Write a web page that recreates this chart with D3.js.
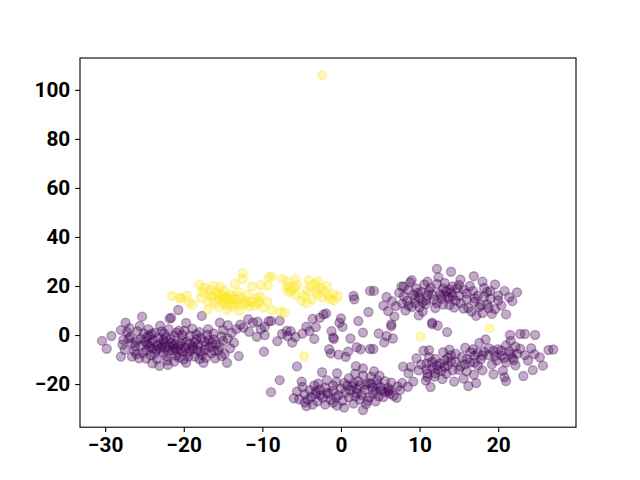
<!DOCTYPE html>
<html><head><meta charset="utf-8">
<script src="https://cdn.jsdelivr.net/npm/d3@7"></script>
<style>html,body{margin:0;padding:0;background:#fff}svg{display:block}</style>
</head><body><svg id="c" width="640" height="480"></svg>
<script>
const xTicks=[-30,-20,-10,0,10,20];
const yTicks=[-20,0,20,40,60,80,100];
const purpleLeft=[[-30.4,-2.4],[-29.2,-0.4],[-29.8,-5.6],[-28,-8.8],[-27.4,5],[-28,2],[-27.7,-2],[-27.8,-4],[-27.5,-6],[-27.2,1.2],[-26.8,-0.8],[-26.6,-3.4],[-26.3,-6.5],[-26.9,2.8],[-25.3,7.5],[-25.6,3.7],[-25.7,-9.5],[-26,-7.8],[-25.9,1.5],[-25.5,-1.6],[-25.4,-4.2],[-25.1,0.6],[-24.9,-2.8],[-24.8,-6.3],[-24.5,2.4],[-24.4,-0.3],[-24.3,-4.8],[-24.2,-8.2],[-24,-11.5],[-23.9,-2],[-23.7,0.9],[-23.5,-6],[-23.4,-9.8],[-23.1,-12.6],[-23,3.8],[-22.9,-3.4],[-22.8,1.5],[-22.6,-7.1],[-22.4,-5],[-22.3,-1],[-22.1,-10.4],[-22,-12.2],[-21.9,2.4],[-21.8,6.7],[-21.6,7],[-21.6,-3.2],[-21.4,-6.3],[-21.2,-0.4],[-21,-8.4],[-20.9,0.9],[-20.7,10.2],[-20.6,-4.4],[-20.4,-5.8],[-20.2,-2.2],[-20,-10],[-19.9,1.7],[-19.7,4.9],[-19.7,-11.3],[-19.5,-7.3],[-19.3,-3.7],[-19.2,-0.4],[-18.9,2.6],[-18.8,-5.4],[-18.6,-8.8],[-18.4,-1.8],[-18.2,-4],[-18,1.2],[-17.9,-6.8],[-17.7,7.8],[-17.5,-11.3],[-17.4,-2.6],[-17.2,-9.3],[-17,0],[-16.9,2.4],[-16.7,-5],[-16.5,-7.4],[-16.2,-1.8],[-16,-9.5],[-15.9,-3.8],[-15.6,-6.2],[-15.4,5],[-15.2,-0.6],[-15,2],[-14.8,-7.7],[-14.5,-11.3],[-14.4,4],[-14.1,-5.4],[-13.9,0.8],[-13.6,-3.1],[-13.3,2.4],[-13,-8.6],[-12.8,4.2],[-12.4,3],[-11.8,6.5],[-11.7,1.3],[-11.2,5],[-10.7,-0.7],[-10.6,5.4],[-10.2,2.4],[-9.7,0],[-9.8,-6.8],[-9.7,3.4],[-9.2,5.6],[-8.9,5.7],[-8.1,-2.5],[-7.8,5.8],[-7.5,0.4],[-6.9,1.7],[-6.8,-0.4],[-27,-1.4],[-26.2,-4.6],[-24.7,-1],[-24.2,-3.2],[-23.4,-4.2],[-23.2,-1.2],[-22.8,-4.8],[-22.4,-3],[-22,-6.4],[-21.8,-4.8],[-21.2,-3.8],[-20.8,-7],[-20.4,-3.4],[-19.8,-5.2],[-19.2,-6.4],[-18.6,-3],[-18,-9.8],[-17.2,-4.2],[-16.4,-3.2],[-15.4,-4.8],[-24.8,-9.6],[-21.2,-10.8],[-26.6,-8.8],[-15,-2.4],[-14.4,-1.4],[-17.8,-1.2],[-20.2,0],[-22.5,0.5],[-24,-5.6],[-25.2,-7.4],[-24.6,-3.8],[-23.7,-7.6],[-23.1,-5.6],[-22.6,-2],[-22.2,-8.6],[-21.7,-1.6],[-21.4,-4.4],[-21.1,-5.6],[-20.6,-9.2],[-20.1,-6.6],[-19.6,-2.6],[-19.4,-8.8],[-18.9,-4.6],[-18.3,-6.2],[-17.7,-8],[-17.3,-6],[-16.8,-2],[-16.1,-6.4],[-15.2,-8.6],[-24.1,0.4],[-26,-2.6],[-20.6,1.8],[-18.4,0.2],[-16.2,0.6]];
const purpleMid=[[-6.2,-3.1],[-6.4,1.6],[-5.8,-0.8],[-5.6,-12.8],[-4.9,0.6],[-4.4,3.4],[-4,1.6],[-3.6,6.6],[-3.4,-1.6],[-3.2,3.2],[-2.7,7],[-2.2,8.4],[-1.9,8.8],[-2.4,-15.2],[-1.5,-5.8],[-1.3,-7.5],[-1.2,1.6],[-1,-1],[-0.3,-8],[-0.2,5],[0,6.8],[0.2,3.3],[0.6,-8.9],[0.9,-6.8],[1.2,-1.4],[1.6,15.9],[1.7,14.6],[2,-5],[2.2,5.7],[2.5,-5.8],[2.8,1],[3.7,-5.7],[3.5,9.4],[4.1,-5.7],[4.2,18],[4.8,0.6],[5.5,-3],[5.8,-0.4],[6.4,3.6],[1.9,-12.7],[2.8,-13.6],[-0.5,-15.6],[-7.8,-18.4],[-8.9,-23.3],[-0.9,-1.6],[6.6,-1.4]];
const purpleBottom=[[-6,-25.8],[-5.6,-23],[-5.3,-26.2],[-5,-19],[-4.9,-21.2],[-4.6,-24.2],[-4.6,-27.5],[-4.4,-29],[-3.95,-22.5],[-3.8,-25.3],[-3.4,-20.6],[-3.2,-24],[-3,-27],[-2.9,-19.8],[-2.7,-22.2],[-2.3,-25.6],[-2,-21.5],[-2,-28.4],[-1.8,-18.4],[-1.6,-24],[-1.3,-26.4],[-1,-20.6],[-1,-22.8],[-0.6,-19],[-0.5,-28.8],[-0.3,-24.5],[0,-21.8],[0.2,-26.8],[0.4,-19.6],[0.6,-23.4],[1,-17.6],[1,-25.4],[1.4,-21],[1.6,-28],[1.8,-15.8],[2,-23.8],[2.2,-18.8],[2.4,-26.4],[2.4,-20.6],[2.8,-16.6],[2.8,-30.6],[3,-22.4],[3.2,-28.2],[3.5,-19.6],[3.6,-25.4],[3.8,-17],[4,-21.4],[4.1,-23.8],[4.2,-14.8],[4.4,-27],[4.6,-18.4],[4.6,-20.4],[4.9,-16.6],[5.1,-22.6],[5.4,-25.3],[5.6,-18.8],[6,-21.6],[6.2,-24],[6.4,-19.4],[6.7,-24.8],[7.1,-25.6],[7.5,-22.5],[6.2,-22.4],[7.2,-21],[3.8,-19.8],[1.2,-22.6],[-0.6,-25.4],[-2.6,-24.6],[4.8,-25],[1.6,-19.6],[-3.6,-28.4],[0.4,-29.6],[2.6,-24.4],[5.6,-23.2],[-3.2,-23],[-1.8,-23.6],[0.8,-20.6],[2,-22],[3.2,-20.4],[4.4,-22.8],[5,-21.2],[6,-23],[-4.2,-26.4],[-1,-27.6],[1.8,-25],[3.4,-26.8]];
const purpleUpper=[[3.7,18],[5.8,15.5],[5.4,12],[6,9.8],[6.5,13.8],[6.8,7.6],[6.4,4.4],[7,11.8],[7.4,17.2],[7.7,19.8],[7.8,12.8],[8,15.8],[8.2,10],[8.4,14],[8.6,18.4],[8.8,21.5],[9,11.4],[9,22.4],[9.2,16.4],[9.5,13],[9.6,19],[9.9,8],[10,15.2],[10.2,17.6],[10.4,9.6],[10.6,20.6],[10.8,12.6],[11,16.2],[11.4,19.2],[11.6,5],[11.8,14.4],[12,11],[12.2,20.8],[12.2,27],[12.3,3.9],[12.4,23.6],[12.6,17],[12.8,14.8],[13,19],[13.2,21.2],[13.5,1.2],[13.6,15.6],[13.8,12.2],[14,17.4],[14,25.8],[14.2,19.8],[14.4,11.2],[14.6,14],[15,16],[15.2,22.6],[15.6,18.6],[16,14.6],[16.2,11],[16.4,20],[16.6,9.6],[16.9,24],[17,13.6],[17.2,7.8],[17.4,16],[17.6,11.4],[18,21.8],[18,9],[18.2,19.2],[18.6,17.6],[18.6,12.4],[19,14.8],[19.2,8.6],[19.6,20.6],[19.6,10.6],[20,16],[20.4,12],[20.8,18],[21,8.4],[21.4,15.4],[21.8,13.8],[22.4,17.4],[17.8,12.2],[10.8,14.2],[12.8,16.2],[13.8,14.8],[8.6,12],[15.6,10.8],[19,18],[9.8,17.2],[16.8,18],[10,11.4],[14.8,19],[9.4,15],[10.4,13.4],[11.2,18],[11.6,16.6],[12.2,13],[13,12.4],[13.4,17.8],[14.2,15.8],[15.2,13],[15,20.4],[16,17],[17,15],[18.2,15.6],[18.8,11],[8,19.8],[20,14.2],[11,21.8],[13.8,18.6]];
const purpleLower=[[7.9,-12.9],[8.6,-15.6],[7.8,-19.5],[8.5,-21.1],[8.9,-13],[9.2,-19],[9.6,-9.5],[9.9,-14.4],[10.5,-6.4],[10.8,-18.6],[10.9,-11.6],[11,-15.8],[11.2,-6.2],[11.4,-21.2],[11.6,-13.4],[11.6,4.5],[11.9,-17],[12,-9.8],[12.3,-14],[12.6,-11.6],[12.9,-18],[13,-7],[13.2,-13],[13.4,-15.8],[13.8,-6],[14,-10.8],[14.2,-14.4],[14.4,-19],[14.6,-7.6],[15.2,-12.8],[15.4,-9],[15.6,-17.8],[15.8,-5.2],[16,-14.8],[16.2,-20.8],[16.4,-11.2],[16.5,-7],[16.9,-16.2],[17.2,-19.6],[17.4,-12.4],[17.6,-3.2],[17.8,-10],[18,-14.4],[18.2,-6.8],[18.4,-1.8],[18.8,-8.2],[19.2,-12],[19.4,-16],[19.8,-10.4],[20,-5.8],[20.4,-8.4],[20.6,-14.6],[20.8,-17.2],[21,-18.8],[21,-11.2],[21.4,-6.6],[21.5,0],[21.6,-2.4],[21.8,-9.2],[22.2,-12.4],[22.4,-7.6],[22.8,0.4],[22.8,-5.6],[23.2,-16.7],[23.4,0.4],[23.4,-8.2],[23.8,-10.4],[24.4,-14.3],[24.2,-5.4],[24.7,0],[24.6,-7.8],[25.3,-9.1],[25.7,-12.5],[26.4,-6.1],[27,-5.9],[13.6,-9.2],[17,-8.4],[19.4,-6.4],[21,-4.2],[11.2,-9],[10.2,-12],[10.9,-14],[11.6,-11],[12.2,-12.4],[12.8,-14.6],[13.2,-10.4],[13.6,-12.4],[14,-8.2],[14.6,-11],[15,-14.2],[16,-9.8],[16.8,-5.8],[17.4,-7.2],[18,-8.4],[18.8,-5.4],[19.6,-8.6],[20.4,-6.4],[20.8,-9.4],[21.6,-7.8],[22.2,-4.8],[12,-15.6],[11,-17.2],[15.8,-12],[17,-11.2],[22,-10.2]];
const yellowPts=[[-2.4,106],[-4.7,-8.7],[10.1,-0.7],[18.9,2.7],[-21.5,15.9],[-20.5,15.2],[-20.3,15],[-19.6,16],[-19.3,13.2],[-18.9,12.4],[-18,20.4],[-17.6,17.6],[-17.8,15.2],[-17.4,19.4],[-16.9,10.4],[-16.9,13.6],[-16.7,18.2],[-16.4,15.8],[-16.2,20],[-16,13],[-15.8,17.2],[-15.6,11.6],[-15.5,14.8],[-15.4,19.6],[-15.2,16.4],[-15,13.8],[-14.9,18.2],[-14.7,15.4],[-14.5,10.4],[-14.4,13],[-14.2,16.8],[-14.1,14.4],[-13.9,11.6],[-13.8,15.8],[-13.6,12.8],[-13.5,20.8],[-13.2,14.4],[-13,17.4],[-12.9,10],[-12.7,15.2],[-12.5,22.8],[-12.5,25.2],[-12.4,12.8],[-12.2,14],[-11.9,16.4],[-11.7,11.6],[-11.4,13.6],[-11.3,19.8],[-11,12],[-10.8,15],[-10.6,13],[-10.3,15.8],[-10.2,20.4],[-9.9,11.2],[-9.4,13.6],[-9.3,20.2],[-9.2,23.6],[-8.8,24],[-8.8,10.2],[-7.7,9.5],[-7.5,23],[-7.2,9.2],[-6.9,19.4],[-6.8,21.8],[-6.7,17.6],[-6.5,19.8],[-6.3,18],[-5.9,19.2],[-5.8,16.4],[-5.8,22.8],[-5.6,20.4],[-5,14],[-4.7,16],[-4.4,13],[-4.4,18],[-4.1,22.4],[-3.9,20],[-3.7,14.6],[-3.3,20.8],[-3.2,18.4],[-3,16.6],[-2.9,22],[-2.6,19.2],[-2.4,15.4],[-2.2,18],[-1.8,20],[-1.6,16],[-1.4,14.6],[-1,16.8],[-0.9,14],[-0.4,15.8],[-16.6,16],[-15,15.2],[-14.4,14.8],[-13.6,14.8],[-15.6,16.4],[-14.8,12.4],[-13.2,12.2],[-12,13],[-10.4,14]];
const purple=[...purpleLeft,...purpleMid,...purpleBottom,...purpleUpper,...purpleLower];

const L=80,R=576,T=58,B=427.2;
const x=d3.scaleLinear().domain([-33.2,29.9]).range([L,R]);
const y=d3.scaleLinear().domain([-37.6,113]).range([B,T]);
const svg=d3.select("#c");
const r=4.5,sw=1.39,op=0.33;
function draw(pts,col){
  svg.append("g").selectAll("circle").data(pts).join("circle")
    .attr("cx",d=>x(d[0])).attr("cy",d=>y(d[1])).attr("r",r)
    .attr("fill",col).attr("fill-opacity",op)
    .attr("stroke",col).attr("stroke-opacity",op).attr("stroke-width",sw);
}
draw(purple,"#440154");
draw(yellowPts,"#fde725");
const fmt=d=>String(d).replace("-","\u2212");
const ax=svg.append("g").attr("transform",`translate(0,${B})`).call(d3.axisBottom(x).tickValues(xTicks).tickFormat(fmt).tickSize(4.86).tickPadding(4.86));
const ay=svg.append("g").attr("transform",`translate(${L},0)`).call(d3.axisLeft(y).tickValues(yTicks).tickFormat(fmt).tickSize(4.86).tickPadding(4.86));
for(const a of [ax,ay]){
  a.select(".domain").remove();
  a.selectAll("line").attr("stroke","#000").attr("stroke-width",1.1);
  a.selectAll("text").attr("fill","#000").attr("font-family","Roboto").attr("font-weight","bold").attr("font-size","20.8px");
}
svg.append("rect").attr("x",L).attr("y",T).attr("width",R-L).attr("height",B-T).attr("fill","none").attr("stroke","#000").attr("stroke-width",1.1);
</script></body></html>
